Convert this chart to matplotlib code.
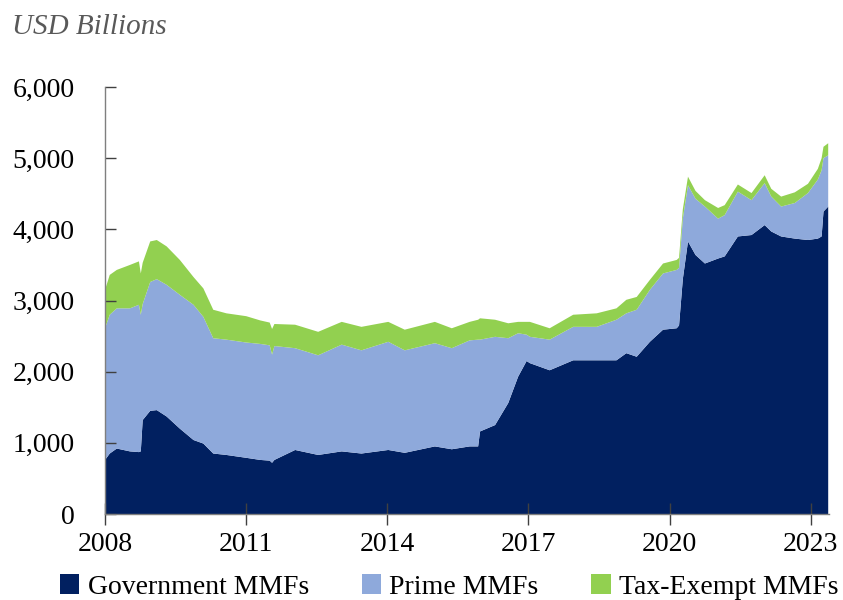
import matplotlib
matplotlib.use("Agg")
import numpy as np
import matplotlib.pyplot as plt
from matplotlib.ticker import FuncFormatter

plt.rcParams['font.family'] = ['Liberation Serif', 'DejaVu Serif']

# Data (USD billions), dates as decimal years
dates = [2008.00, 2008.10, 2008.25, 2008.53, 2008.72, 2008.76, 2008.80, 2008.96,
         2009.10, 2009.31, 2009.59, 2009.88, 2010.09, 2010.30, 2010.58, 2011.00,
         2011.30, 2011.50, 2011.55, 2011.60, 2012.04, 2012.53, 2013.03, 2013.45,
         2014.02, 2014.37, 2015.01, 2015.37, 2015.75, 2015.93, 2015.97, 2016.29,
         2016.57, 2016.78, 2016.96, 2017.03, 2017.45, 2017.95, 2018.45, 2018.87,
         2019.08, 2019.30, 2019.58, 2019.86, 2020.15, 2020.20, 2020.28, 2020.39,
         2020.55, 2020.75, 2021.03, 2021.17, 2021.45, 2021.74, 2022.02, 2022.16,
         2022.37, 2022.66, 2022.94, 2023.15, 2023.23, 2023.27, 2023.37]

government = [760, 850, 920, 880, 870, 880, 1320, 1450,
              1460, 1370, 1200, 1040, 990, 850, 830, 790,
              760, 750, 720, 760, 900, 830, 880, 850,
              900, 860, 950, 910, 950, 950, 1160, 1250,
              1560, 1930, 2150, 2120, 2020, 2160, 2160, 2160,
              2260, 2210, 2420, 2590, 2610, 2650, 3300, 3830,
              3640, 3520, 3590, 3620, 3900, 3920, 4060, 3970,
              3900, 3870, 3850, 3870, 3900, 4250, 4320]

prime = [1850, 1950, 1970, 2010, 2070, 1920, 1630, 1810,
         1840, 1850, 1880, 1900, 1780, 1620, 1620, 1620,
         1630, 1620, 1520, 1600, 1430, 1400, 1500, 1450,
         1520, 1440, 1450, 1420, 1490, 1500, 1290, 1240,
         910, 610, 370, 370, 430, 470, 470, 570,
         560, 660, 730, 790, 820, 810, 850, 790,
         790, 800, 560, 580, 630, 490, 590, 490,
         420, 500, 660, 830, 930, 750, 720]

tax_exempt = [540, 560, 540, 610, 610, 580, 580, 570,
              550, 540, 490, 390, 400, 400, 370, 370,
              330, 320, 360, 310, 330, 330, 320, 330,
              280, 290, 300, 280, 260, 280, 300, 240,
              210, 160, 180, 210, 160, 170, 190, 160,
              190, 180, 140, 140, 140, 140, 130, 120,
              110, 90, 150, 140, 100, 100, 110, 110,
              140, 150, 130, 150, 170, 160, 170]

labels = ["Government MMFs", "Prime MMFs", "Tax-Exempt MMFs"]
colors = ["#012060", "#8EA9DB", "#92D050"]

fig = plt.figure(figsize=(8.43, 6.0), dpi=100)
ax = fig.add_axes([0.1246, 0.1433, 0.8584, 0.7117])

ax.stackplot(dates, government, prime, tax_exempt, colors=colors, labels=labels,
             linewidth=0)

ax.set_xlim(2008, 2023.38)
ax.set_ylim(0, 6000)
ax.set_xticks([2008, 2011, 2014, 2017, 2020, 2023])
ax.set_yticks(np.arange(0, 6001, 1000))
ax.yaxis.set_major_formatter(FuncFormatter(lambda v, p: f"{int(v):,}"))

for s in ["top", "right"]:
    ax.spines[s].set_visible(False)
for s in ["left", "bottom"]:
    ax.spines[s].set_color("#7f7f7f")
    ax.spines[s].set_linewidth(1.0)

ax.tick_params(axis="y", direction="in", length=8, width=1, color="#404040",
               labelsize=20, pad=22)
ax.tick_params(axis="x", direction="inout", length=16, width=1, color="#404040",
               labelsize=20, pad=5)

fig.text(0.014, 0.955, "USD Billions", fontsize=21, style="italic",
         color="#595959", ha="left", va="center")

fig.legend(loc="center", bbox_to_anchor=(0.533, 0.022), ncol=3, frameon=False,
           fontsize=20, handlelength=0.7, handleheight=0.7, handletextpad=0.3,
           columnspacing=1.9, borderaxespad=0)

fig.savefig("out.png", dpi=100)
